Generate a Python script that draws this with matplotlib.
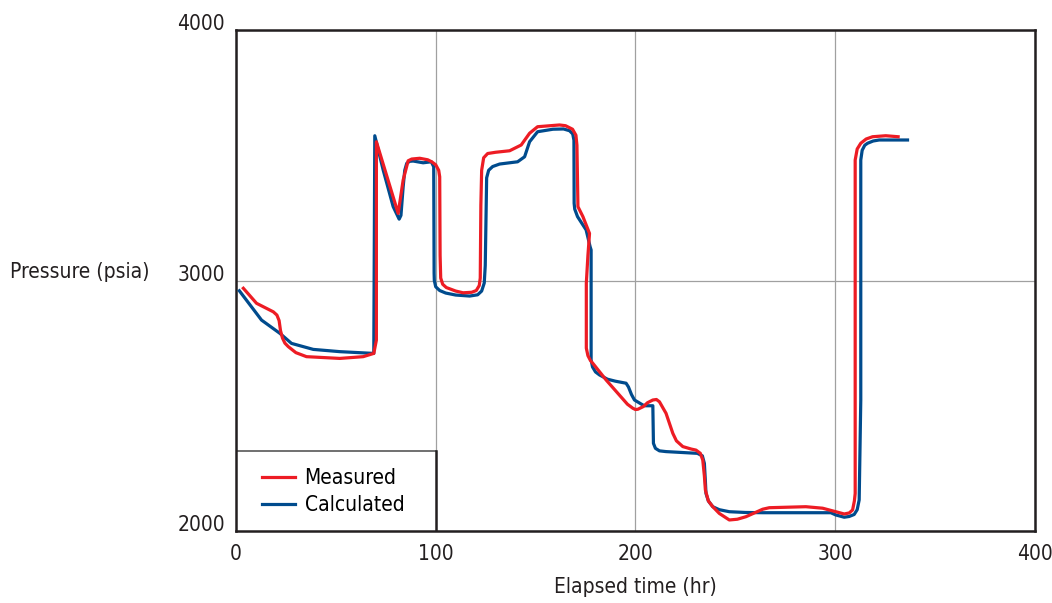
import numpy as np
import matplotlib
matplotlib.use("Agg")
import matplotlib.pyplot as plt

plt.rcParams['font.family'] = ['DejaVu Sans']
plt.rcParams['font.stretch'] = 'condensed'

# Measured pressure
meas_t = [3.7, 10.3, 18.7, 20.5, 21.6, 22.3, 23.3, 24.5, 26.2, 30, 35.3, 52, 63.7, 69, 70.3, 70.3,
          81.2, 83.7, 86.2, 88, 92, 96, 98, 100, 101.5, 102, 102.2, 102.5, 103.5, 105.3,
          110, 113.7, 118, 120.3, 121.8, 122.3, 122.6, 123, 124, 126, 130, 137,
          142.8, 147, 151, 162, 165, 168.5, 170.2, 170.7, 171.2, 173.7,
          177, 176.2, 175.4, 175.4, 176.2, 177.5, 178.7, 185.3, 196, 198.7, 200, 201.2,
          204, 206, 208.7, 210.5, 212, 213.5, 215.3, 217, 218.7, 220.5, 223.7, 228,
          230.3, 232.5, 233.7, 234.5, 235, 236.5, 238.7, 242, 247, 251, 255.3, 263.7, 267,
          285.3, 293.7, 300.3, 304.5, 307, 308.7, 309.6, 310, 310, 311, 312.8, 315.5,
          318.7, 325.3, 331.5]
meas_p = [2969, 2909, 2875, 2862, 2840, 2800, 2770, 2750, 2736, 2712, 2696, 2689, 2696, 2709, 2762, 3554,
          3268, 3401, 3478, 3485, 3488, 3482, 3474, 3462, 3440, 3414, 3100, 3010, 2985, 2972,
          2958, 2951, 2953, 2960, 2980, 3010, 3300, 3440, 3490, 3507, 3512, 3518,
          3541, 3588, 3614, 3621, 3618, 3604, 3580, 3540, 3295, 3255,
          3188, 3100, 2990, 2730, 2700, 2680, 2669, 2603, 2506, 2490, 2485, 2486,
          2497, 2512, 2523, 2525, 2516, 2495, 2470, 2430, 2390, 2360, 2337, 2327,
          2323, 2310, 2283, 2220, 2164, 2120, 2097, 2070, 2044, 2047, 2057, 2087, 2093,
          2097, 2091, 2077, 2068, 2072, 2084, 2120, 2150, 3481, 3525, 3548, 3565,
          3574, 3578, 3574]

# Calculated pressure
calc_t = [1.7, 12.8, 22, 27.8, 38.7, 52, 69, 69.5, 73.7, 78.7, 80.5, 81.7, 82.6,
          83.7, 84.5, 85.5, 87, 88.7, 93.7, 97.8, 99, 99.2, 99.3, 100, 102, 105,
          110, 117, 121, 123, 124.3, 124.8, 125.5, 126.5, 128.5, 132,
          137, 141, 144.5, 147, 151, 158.7, 164, 167, 168.6, 169.2, 169.3, 169.6,
          171, 175.3, 177.3, 177.8, 177.8, 178.5, 180, 182, 186, 190, 195.3, 196.5,
          198, 199.5, 203.7, 205, 208.7, 209, 210, 212, 215.3, 231, 233.5, 234.5,
          235, 235.3, 236.5, 238.7, 242, 247, 255, 263.7, 297.8, 300.3, 304.5, 307,
          309.5, 311, 312, 312.8, 312.8, 313.5, 314.8, 316.2, 319, 322, 336.2]
calc_p = [2959, 2842, 2789, 2749, 2725, 2716, 2709, 3578, 3441, 3295, 3265, 3245, 3260,
          3374, 3440, 3468, 3476, 3477, 3470, 3474, 3454, 3029, 3000, 2975, 2960, 2950,
          2942, 2938, 2943, 2958, 2990, 3060, 3410, 3440, 3455, 3465,
          3470, 3474, 3494, 3554, 3594, 3604, 3605, 3598, 3585, 3560, 3308, 3285,
          3255, 3202, 3135, 3122, 2683, 2655, 2635, 2623, 2606, 2598, 2590, 2575,
          2545, 2523, 2503, 2500, 2500, 2350, 2330, 2320, 2317, 2310, 2300, 2270,
          2200, 2150, 2120, 2097, 2085, 2077, 2074, 2073, 2073, 2064, 2055, 2058,
          2066, 2085, 2124, 2523, 3481, 3520, 3540, 3548, 3557, 3561, 3561]

x_ticks = [0, 100, 200, 300, 400]
y_ticks = [2000, 3000, 4000]

red = '#ED1C24'
blue = '#004B8D'

fig = plt.figure(figsize=(10.52, 6.03), dpi=100)
ax = fig.add_axes([0.2243, 0.1194, 0.7595, 0.8308])

ax.plot(calc_t, calc_p, color=blue, lw=2.3, solid_joinstyle='round', label='Calculated', zorder=3)
ax.plot(meas_t, meas_p, color=red, lw=2.3, solid_joinstyle='round', label='Measured', zorder=4)

ax.set_xlim(0, 400)
ax.set_ylim(2000, 4000)
ax.set_xticks(x_ticks)
ax.set_yticks(y_ticks)
ax.grid(True, color='#a0a0a0', lw=0.9)
ax.tick_params(length=0, labelsize=15, colors='#231f20')
ax.tick_params(axis='x', pad=9)
ax.tick_params(axis='y', pad=8)
for lab in ax.get_yticklabels():
    lab.set_va('baseline')

for s in ax.spines.values():
    s.set_color('#231f20')
    s.set_linewidth(1.8)

# legend box in the lower left corner
ax.fill_between([0, 100], 2000, 2319, color='white', zorder=2)
ax.plot([0, 100], [2319, 2319], color='#707070', lw=1.4, zorder=2.5)
ax.plot([100, 100], [2000, 2319], color='#231f20', lw=1.8, zorder=2.5)

h, l = ax.get_legend_handles_labels()
ax.legend(h[::-1], l[::-1], loc='upper left', bbox_to_anchor=(0.022, 0.142),
          frameon=False, fontsize=15, handlelength=1.6, handletextpad=0.45,
          labelspacing=0.35, borderaxespad=0)

ax.set_xlabel('Elapsed time (hr)', fontsize=15, color='#231f20', va='center')
ax.xaxis.set_label_coords(0.5, -0.112)
ax.set_ylabel('Pressure (psia)', fontsize=15, color='#231f20', rotation=0,
              ha='left', va='center')
ax.yaxis.set_label_coords(-0.283, 0.517)

fig.savefig('out.png', dpi=100)
